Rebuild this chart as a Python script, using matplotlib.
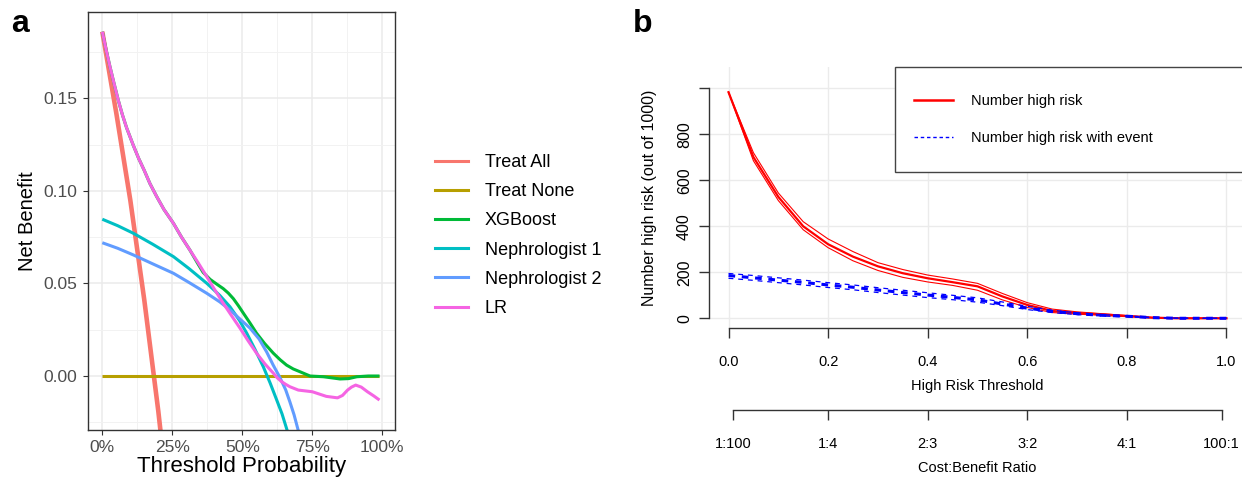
import matplotlib
matplotlib.use("Agg")
import matplotlib.pyplot as plt
from matplotlib.lines import Line2D
from matplotlib.patches import Rectangle

plt.rcParams['lines.scale_dashes'] = False

FA = 'Liberation Sans'

# ---------------- Panel a data (decision curves) ----------------
treat_all_t = [0.0, 0.05, 0.10, 0.15, 0.20, 0.25]
treat_all_nb = [0.186, 0.142, 0.095, 0.041, -0.019, -0.087]

treat_none_t = [0.0, 0.99]
treat_none_nb = [0.0, 0.0]

xgb_t = [0.0, 0.014, 0.0275, 0.042, 0.057, 0.072, 0.087, 0.111, 0.13, 0.15, 0.17, 0.194,
         0.22, 0.254, 0.283, 0.313, 0.34, 0.36, 0.385, 0.41, 0.432, 0.45, 0.468, 0.486,
         0.504, 0.528, 0.551, 0.58, 0.611, 0.635, 0.658, 0.682, 0.706, 0.742, 0.79,
         0.849, 0.88, 0.909, 0.95, 0.99]
xgb_nb = [0.186, 0.176, 0.167, 0.158, 0.149, 0.141, 0.134, 0.1245, 0.1175, 0.111, 0.104,
          0.097, 0.090, 0.0825, 0.075, 0.068, 0.061, 0.056, 0.0522, 0.0495, 0.0472,
          0.0448, 0.0418, 0.0380, 0.0339, 0.0285, 0.0231, 0.0175, 0.0123, 0.0088,
          0.0059, 0.0038, 0.0023, 0.0, -0.0004, -0.0016, -0.0014, -0.0004, 0.0, 0.0]

neph1_t = [0.0, 0.055, 0.111, 0.18, 0.254, 0.31, 0.373, 0.42, 0.456, 0.49, 0.516,
           0.545, 0.575, 0.6, 0.623, 0.642, 0.658, 0.675, 0.69]
neph1_nb = [0.0847, 0.0812, 0.0771, 0.0712, 0.0645, 0.058, 0.0501, 0.0435, 0.0374,
            0.030, 0.0231, 0.0145, 0.005, -0.004, -0.013, -0.0205, -0.0283, -0.0365, -0.045]

neph2_t = [0.0, 0.055, 0.111, 0.18, 0.254, 0.31, 0.373, 0.42, 0.456, 0.49, 0.528,
           0.56, 0.587, 0.61, 0.635, 0.655, 0.67, 0.685, 0.70, 0.72]
neph2_nb = [0.072, 0.069, 0.0654, 0.0606, 0.0555, 0.0505, 0.0447, 0.040, 0.0357, 0.031,
            0.0258, 0.020, 0.013, 0.006, -0.001, -0.0075, -0.014, -0.021, -0.0295, -0.042]

lr_t = [0.0, 0.014, 0.0275, 0.042, 0.057, 0.072, 0.087, 0.111, 0.13, 0.15, 0.17, 0.194,
        0.22, 0.254, 0.283, 0.313, 0.343, 0.373, 0.402, 0.432, 0.462, 0.492, 0.521,
        0.551, 0.581, 0.611, 0.625, 0.64, 0.655, 0.67, 0.70, 0.75, 0.80, 0.84, 0.858,
        0.876, 0.89, 0.905, 0.925, 0.947, 0.97, 0.99]
lr_nb = [0.186, 0.176, 0.167, 0.158, 0.149, 0.141, 0.134, 0.1245, 0.1175, 0.111, 0.104,
         0.097, 0.090, 0.0825, 0.075, 0.068, 0.061, 0.0537, 0.0465, 0.0393, 0.0325,
         0.0258, 0.019, 0.0123, 0.0065, 0.0015, -0.001, -0.003, -0.0045, -0.0058,
         -0.0076, -0.0085, -0.011, -0.0118, -0.0105, -0.0076, -0.006, -0.0049, -0.006,
         -0.0085, -0.0108, -0.013]

series_names = ['Treat All', 'Treat None', 'XGBoost', 'Nephrologist 1', 'Nephrologist 2', 'LR']
series_colors = ['#F8766D', '#B79F00', '#00BA38', '#00BFC4', '#619CFF', '#F564E3']

x_ticks_a = [0.0, 0.25, 0.5, 0.75, 1.0]
x_labels_a = ['0%', '25%', '50%', '75%', '100%']
y_ticks_a = [0.0, 0.05, 0.10, 0.15]
y_labels_a = ['0.00', '0.05', '0.10', '0.15']

# ---------------- Panel b data (clinical impact) ----------------
thr = [0.0, 0.05, 0.10, 0.15, 0.20, 0.25, 0.30, 0.35, 0.40, 0.45, 0.50,
       0.55, 0.60, 0.65, 0.70, 0.75, 0.80, 0.85, 0.90, 0.95, 1.0]
high_risk = [983, 701, 528, 400, 322, 268, 226, 196, 174, 157, 139,
             95, 58, 32, 23, 17, 10, 3, 0, 0, 0]
high_risk_hi = [983, 720, 545, 420, 345, 290, 242, 212, 188, 171, 152,
                108, 68, 40, 28, 20, 12, 4, 1, 0, 0]
high_risk_lo = [983, 685, 512, 385, 307, 250, 208, 178, 158, 143, 122,
                80, 47, 25, 18, 13, 7, 2, 0, 0, 0]
event = [186, 176, 166, 156, 145, 135, 123, 112, 101, 91, 80,
         62, 44, 30, 20, 13, 9, 3, 0, 0, 0]
event_hi = [195, 186, 176, 166, 155, 145, 133, 122, 111, 100, 89,
            71, 52, 35, 24, 16, 11, 4, 1, 0, 0]
event_lo = [174, 165, 155, 145, 134, 124, 112, 101, 90, 81, 70,
            55, 38, 25, 16, 10, 6, 2, 0, 0, 0]

x_ticks_b = [0.0, 0.2, 0.4, 0.6, 0.8, 1.0]
x_labels_b = ['0.0', '0.2', '0.4', '0.6', '0.8', '1.0']
y_ticks_b = [0, 200, 400, 600, 800, 1000]
y_labels_b = ['0', '200', '400', '600', '800', '']
cb_ticks = [1 / 101, 0.2, 0.4, 0.6, 0.8, 100 / 101]
cb_labels = ['1:100', '1:4', '2:3', '3:2', '4:1', '100:1']

W, H = 1242, 478
fig = plt.figure(figsize=(W / 100, H / 100), dpi=100)


def fbox(l, t, r, b):
    return [l / W, 1 - b / H, (r - l) / W, (b - t) / H]


# ================= Panel a =================
ax = fig.add_axes(fbox(88, 12, 395, 430))
ax.set_xlim(-0.0511, 1.0454)
ax.set_ylim(-0.02917, 0.19665)
ax.set_xticks(x_ticks_a)
ax.set_xticklabels(x_labels_a)
ax.set_yticks(y_ticks_a)
ax.set_yticklabels(y_labels_a)
ax.set_xticks([0.125, 0.375, 0.625, 0.875], minor=True)
ax.set_yticks([-0.025, 0.025, 0.075, 0.125, 0.175], minor=True)
ax.grid(True, which='major', color='#EBEBEB', lw=1.1)
ax.grid(True, which='minor', color='#F2F2F2', lw=0.7)
ax.set_axisbelow(True)
ax.tick_params(which='minor', length=0)
ax.tick_params(which='major', length=3.5, width=0.8, color='#333333',
               labelcolor='#4D4D4D', labelsize=12.5)
ax.tick_params(axis='x', pad=3.5)
ax.tick_params(axis='y', pad=4)
for lab in ax.get_xticklabels() + ax.get_yticklabels():
    lab.set_fontfamily(FA)
for s in ax.spines.values():
    s.set_color('#333333')
    s.set_linewidth(1.0)

data_a = [(treat_all_t, treat_all_nb), (treat_none_t, treat_none_nb), (xgb_t, xgb_nb),
          (neph1_t, neph1_nb), (neph2_t, neph2_nb), (lr_t, lr_nb)]
lws = [3.3, 2.2, 2.2, 2.2, 2.2, 2.2]
handles = []
for (tt, vv), nm, c, lw in zip(data_a, series_names, series_colors, lws):
    ax.plot(tt, vv, color=c, lw=lw, label=nm, solid_capstyle='butt',
            solid_joinstyle='round')
    handles.append(Line2D([], [], color=c, lw=2.2, label=nm))

ax.set_xlabel('Threshold Probability', fontsize=16, family=FA, labelpad=1)
ax.set_ylabel('Net Benefit', fontsize=14.5, family=FA, labelpad=5)

fig.legend(handles=handles, loc='upper left', bbox_to_anchor=(435 / W, 1 - 154 / H),
           frameon=False, borderpad=0, borderaxespad=0, prop={'family': FA, 'size': 13},
           handlelength=1.8, handletextpad=0.95, labelspacing=0.675)

fig.text(11, H - 32, 'a', transform=None, fontsize=23, fontweight='bold', family=FA,
         ha='left', va='baseline')

# ================= Panel b =================
FBS = 10.5
bx = fig.add_axes(fbox(708.6, 67, 1246.4, 328.3))
bx.set_xlim(-0.04, 1.04)
bx.set_ylim(-43.5, 1092.6)
for s in ['top', 'right']:
    bx.spines[s].set_visible(False)
bx.spines['left'].set_bounds(0, 1000)
bx.spines['bottom'].set_bounds(0, 1)
for s in ['left', 'bottom']:
    bx.spines[s].set_color('#333333')
    bx.spines[s].set_linewidth(1.0)
bx.set_xticks(x_ticks_b)
bx.set_xticklabels(x_labels_b)
bx.set_yticks(y_ticks_b)
bx.set_yticklabels(y_labels_b)
bx.grid(True, color='#EBEBEB', lw=1.0)
bx.set_axisbelow(True)
bx.tick_params(length=7, width=1.0, color='#333333', labelsize=FBS)
bx.tick_params(axis='x', pad=12.5)
bx.tick_params(axis='y', pad=5, labelrotation=90)
for lab in bx.get_xticklabels():
    lab.set_fontfamily(FA)
for lab in bx.get_yticklabels():
    lab.set_fontfamily(FA)
    lab.set_fontsize(11.5)
    lab.set_va('center')

bx.plot(thr, high_risk_hi, color='#FF0000', lw=0.8)
bx.plot(thr, high_risk_lo, color='#FF0000', lw=0.8)
bx.plot(thr, high_risk, color='#FF0000', lw=1.6)
bx.plot(thr, event_hi, color='#0000FF', lw=0.9, dashes=(3.5, 3.5))
bx.plot(thr, event_lo, color='#0000FF', lw=0.9, dashes=(3.5, 3.5))
bx.plot(thr, event, color='#0000FF', lw=2.2, dashes=(4.8, 4.8))

bx.set_xlabel('High Risk Threshold', fontsize=FBS, family=FA, labelpad=7)
bx.set_ylabel('Number high risk (out of 1000)', fontsize=11.5, family=FA)
bx.yaxis.set_label_coords((649.5 - 708.6) / (1246.4 - 708.6), 0.5)
bx.yaxis.label.set_va('center')

sec = bx.secondary_xaxis((328.3 - 410) / (328.3 - 67))
sec.set_xticks(cb_ticks)
sec.set_xticklabels(cb_labels)
sec.spines['bottom'].set_bounds(cb_ticks[0], cb_ticks[-1])
sec.spines['bottom'].set_color('#333333')
sec.spines['bottom'].set_linewidth(1.0)
sec.tick_params(length=7, width=1.0, color='#333333', labelsize=FBS, pad=12.5)
for lab in sec.get_xticklabels():
    lab.set_fontfamily(FA)
sec.set_xlabel('Cost:Benefit Ratio', fontsize=FBS, family=FA, labelpad=7)

# legend box for panel b (extends past the right edge, as in the source)
fig.patches.append(Rectangle((894.6 / W, 1 - 171.7 / H), (W + 20 - 894.6) / W,
                             (171.7 - 66.7) / H, transform=fig.transFigure,
                             facecolor='white', edgecolor='#444444', lw=1.0, zorder=5))
hb = [Line2D([], [], color='#FF0000', lw=1.8, label='Number high risk'),
      Line2D([], [], color='#0000FF', lw=1.0, dashes=(2.5, 2.0), label='Number high risk with event')]
lg = fig.legend(handles=hb, loc='upper left', bbox_to_anchor=(914 / W, 1 - 94 / H),
                frameon=False, borderpad=0, borderaxespad=0, prop={'family': FA, 'size': FBS},
                handlelength=2.7, handletextpad=1.2, labelspacing=1.55)
lg.set_zorder(6)

fig.text(633, H - 32, 'b', transform=None, fontsize=23, fontweight='bold', family=FA,
         ha='left', va='baseline')

fig.savefig('out.png', dpi=100)
